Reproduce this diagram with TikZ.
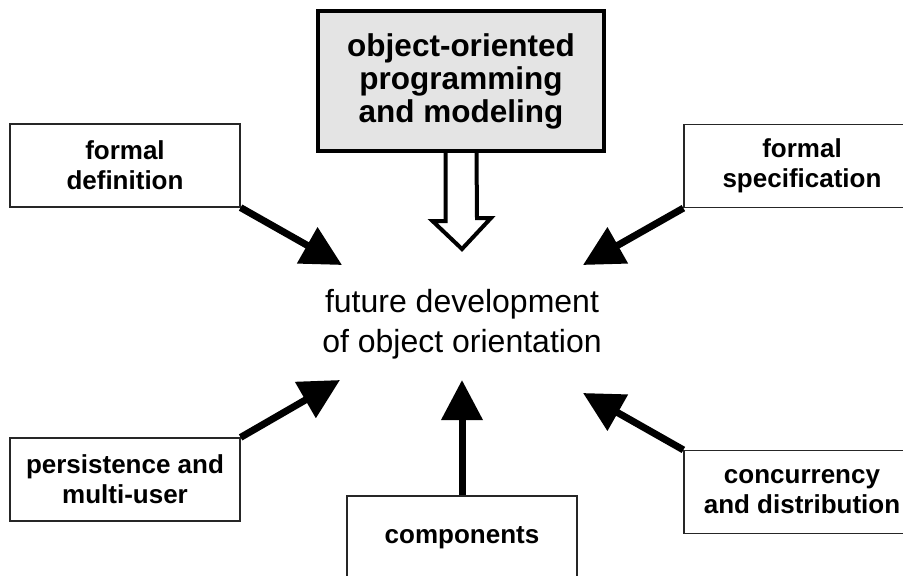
\documentclass[tikz,border=0pt]{standalone}
\usepackage{fontspec}
\setmainfont{Liberation Sans}
\usetikzlibrary{arrows.meta}

\definecolor{boxgray}{HTML}{E4E4E4}

\tikzset{
  topic/.style={draw=black!85, line width=1.2pt, fill=white, inner sep=0pt,
    align=center, font=\bfseries\fontsize{26}{30}\selectfont},
  mainbox/.style={draw=black, line width=4pt, fill=boxgray, inner sep=0pt,
    align=center, minimum width=286pt, minimum height=140pt,
    font=\bfseries\fontsize{31.5}{33}\selectfont},
  centre/.style={align=center, inner sep=0pt, font=\fontsize{32}{40}\selectfont},
  fat/.style={line width=7pt, -{Triangle[length=40pt,width=40pt]}},
  hollow/.style={draw=black, line width=4pt, fill=white, line join=miter}
}

\begin{document}
\begin{tikzpicture}[x=1pt,y=-1pt]
  \useasboundingbox (0,0) rectangle (903,576);
  \clip (0,0) rectangle (903,576);

  % boxes around the central theme
  \node[mainbox] (oop) at (461,81) {object-oriented\\programming\\and modeling};
  \node[topic, minimum width=230pt, minimum height=83pt] (fdef) at (125,165.5) {formal\\definition};
  \node[topic, minimum width=236pt, minimum height=83pt] (fspec) at (802,166) {formal\\specification};
  \node[topic, minimum width=230pt, minimum height=83pt] (pers) at (125,479.5) {persistence and\\multi-user};
  \node[topic, minimum width=236pt, minimum height=83pt] (conc) at (802,492) {concurrency\\and distribution};
  \node[topic, minimum width=230pt, minimum height=84pt] (comp) at (462,538) {components};

  % central theme
  \node[centre] (fut) at (462,324) {future development\\of object orientation};

  % arrow tips around the central theme
  \coordinate (tA) at (342,265);
  \coordinate (tB) at (583,265);
  \coordinate (tC) at (340,380);
  \coordinate (tD) at (583,393);
  \coordinate (tE) at (462,380);

  \draw[fat] (fdef.south east) -- (tA);
  \draw[fat] (fspec.south west) -- (tB);
  \draw[fat] (pers.north east) -- (tC);
  \draw[fat] (conc.north west) -- (tD);
  \draw[fat] (comp.north) -- (tE);

  % hollow arrow below the main box
  \coordinate (hl) at ([xshift=-15.5pt]oop.south);
  \coordinate (hr) at ([xshift=15.5pt]oop.south);
  \draw[hollow] (hl) -- ++(0,68) -- ++(-13,0) -- (462,249) -- (491,218)
    -- ++(-14,0) -- (hr);
\end{tikzpicture}
\end{document}
